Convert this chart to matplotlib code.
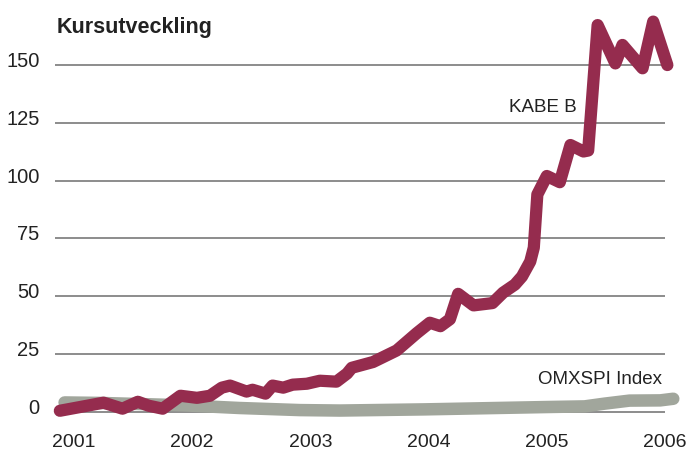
import matplotlib.pyplot as plt
import matplotlib.transforms as mtransforms

# KABE B share price (decimal year, SEK)
kabe_year = [2000.88, 2001.25, 2001.41, 2001.54, 2001.63, 2001.75, 2001.90, 2002.04,
             2002.15, 2002.25, 2002.32, 2002.46, 2002.51, 2002.62, 2002.68, 2002.77,
             2002.85, 2002.97, 2003.08, 2003.22, 2003.31, 2003.35, 2003.53, 2003.73,
             2003.90, 2004.01, 2004.10, 2004.18, 2004.25, 2004.38, 2004.54, 2004.63,
             2004.73, 2004.79, 2004.86, 2004.89, 2004.92, 2005.00, 2005.11, 2005.20,
             2005.31, 2005.35, 2005.43, 2005.58, 2005.64, 2005.81, 2005.90, 2006.02]
kabe_value = [0.4, 3.9, 1.3, 4.3, 2.6, 1.3, 6.9, 6.0,
              6.9, 10.4, 11.3, 8.7, 9.5, 7.8, 11.3, 10.4,
              11.7, 12.1, 13.4, 13.0, 16.5, 19.0, 21.5, 26.5,
              34.0, 38.5, 37.0, 40.0, 51.0, 46.0, 47.0, 51.5,
              55.0, 58.5, 65.0, 71.0, 94.0, 102.0, 99.3, 115.4,
              112.6, 113.0, 167.3, 150.7, 158.7, 148.6, 168.8, 150.0]

# OMXSPI index, rescaled
omx_year = [2000.92, 2001.22, 2001.91, 2002.40, 2002.91, 2003.25, 2003.96,
            2004.98, 2005.32, 2005.49, 2005.70, 2005.96, 2006.07]
omx_value = [4.0, 3.8, 2.8, 1.6, 0.7, 0.5, 1.0, 2.0, 2.3, 3.5, 4.8, 4.9, 5.6]

year_ticks = [2001, 2002, 2003, 2004, 2005, 2006]
value_ticks = [0, 25, 50, 75, 100, 125, 150]

red = '#952c4e'
grey = '#a1a69c'
text_col = '#222222'

fig = plt.figure(figsize=(6.89, 4.53), dpi=100)
ax = fig.add_axes([55/689, 23/453, 610/689, 390/453])
ax.set_xlim(2000.839, 2006.0)
ax.set_ylim(-7.92, 160.84)

for v in value_ticks:
    ax.axhline(v, color='#6e6e6e', lw=1.1, zorder=1)

ax.plot(omx_year, omx_value, color=grey, lw=9, solid_capstyle='round',
        solid_joinstyle='round', clip_on=False, zorder=2)
ax.plot(kabe_year, kabe_value, color=red, lw=8.8, solid_capstyle='round',
        solid_joinstyle='round', clip_on=False, zorder=3)

for s in ax.spines.values():
    s.set_visible(False)
ax.set_yticks([])
ax.set_xticks(year_ticks)
ax.set_xticklabels([str(y) for y in year_ticks], fontsize=14, color=text_col,
                   family='Liberation Sans')
ax.tick_params(axis='x', length=0, pad=3)

# y labels sit on their gridlines
trans = mtransforms.blended_transform_factory(ax.transAxes, ax.transData)
off = mtransforms.ScaledTranslation(-11/72, -1.5/72, fig.dpi_scale_trans)
for v in value_ticks:
    ax.text(0, v, str(v), transform=trans + off, ha='right', va='baseline',
            fontsize=14.5, color=text_col, family='Liberation Sans')

fig.text(57/689, 1 - 33/453, 'Kursutveckling', fontsize=15.5, fontweight='bold',
         color=text_col, family='Liberation Sans', va='baseline', ha='left')

ax.text(2005.0 - (546 - 508)/118.2, 131.5, 'KABE B', fontsize=13.5, color=text_col,
        family='Liberation Sans', va='center', ha='left')
ax.text(2006.0 - (665 - 662)/118.2, 14, 'OMXSPI Index', fontsize=13.5, color=text_col,
        family='Liberation Sans', va='center', ha='right')

fig.savefig('out.png', dpi=100)
